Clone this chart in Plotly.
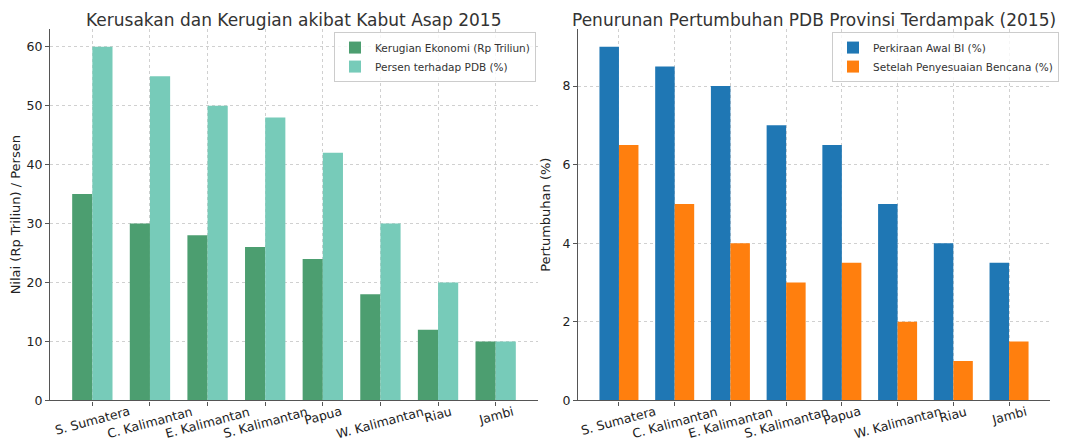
import plotly.graph_objects as go

# page body keeps its default 8px margin; the captured page comes out slightly
# squeezed vertically, so y positions are stretched a little.
W, H = 1060, 440
OX, OY = 8, 8
YS = 0.986

provinces = ["S. Sumatera", "C. Kalimantan", "E. Kalimantan", "S. Kalimantan",
             "Papua", "W. Kalimantan", "Riau", "Jambi"]
kerugian = [35, 30, 28, 26, 24, 18, 12, 10]
persen_pdb = [60, 55, 50, 48, 42, 30, 20, 10]
awal_bi = [9, 8.5, 8, 7, 6.5, 5, 4, 3.5]
setelah = [6.5, 5, 4, 3, 3.5, 2, 1, 1.5]

xs = list(range(len(provinces)))

def px(x):
    return (x - OX) / W

def py(y):
    return 1 - (y / YS - OY) / H

FONT = "DejaVu Sans"
GRID = "#d0d0d0"
AX = "#555555"

fig = go.Figure()
fig.add_trace(go.Bar(x=xs, y=kerugian, name="Kerugian Ekonomi (Rp Triliun)",
                     marker=dict(color="#4c9e70", line=dict(width=0)),
                     xaxis="x", yaxis="y", legend="legend"))
fig.add_trace(go.Bar(x=xs, y=persen_pdb, name="Persen terhadap PDB (%)",
                     marker=dict(color="#77cbb9", line=dict(width=0)),
                     xaxis="x", yaxis="y", legend="legend"))
fig.add_trace(go.Bar(x=xs, y=awal_bi, name="Perkiraan Awal BI (%)",
                     marker=dict(color="#1f77b4", line=dict(width=0)),
                     xaxis="x2", yaxis="y2", legend="legend2"))
fig.add_trace(go.Bar(x=xs, y=setelah, name="Setelah Penyesuaian Bencana (%)",
                     marker=dict(color="#ff7f0e", line=dict(width=0)),
                     xaxis="x2", yaxis="y2", legend="legend2"))

xr = [-0.735, 7.735]
common_x = dict(range=xr, showgrid=True, gridcolor=GRID, griddash="dot", gridwidth=1,
                tickmode="array", tickvals=xs, showticklabels=False,
                ticks="outside", ticklen=4, tickcolor=AX,
                showline=True, linecolor=AX, linewidth=1.3, zeroline=False)
common_y = dict(showgrid=True, gridcolor=GRID, griddash="dot", gridwidth=1,
                ticks="outside", ticklen=4, tickcolor=AX,
                showline=True, linecolor=AX, linewidth=1.3, zeroline=False,
                tickfont=dict(family=FONT, size=12.5, color="#222"))

fig.update_layout(
    width=W, height=H, margin=dict(l=0, r=0, t=0, b=0), autosize=False,
    paper_bgcolor="white", plot_bgcolor="white",
    barmode="group", bargap=0.3, bargroupgap=0,
    font=dict(family=FONT, color="#222"),
    xaxis=dict(domain=[px(50), px(538)], anchor="y", **common_x),
    yaxis=dict(domain=[py(401), py(29)], anchor="x", range=[0, 63],
               tickvals=[0, 10, 20, 30, 40, 50, 60],
               title=dict(text="Nilai (Rp Triliun) / Persen",
                          font=dict(family=FONT, size=13, color="#222"), standoff=8),
               **common_y),
    xaxis2=dict(domain=[px(578), px(1050)], anchor="y2", **common_x),
    yaxis2=dict(domain=[py(401), py(29)], anchor="x2", range=[0, 9.45],
                tickvals=[0, 2, 4, 6, 8],
                title=dict(text="Pertumbuhan (%)",
                           font=dict(family=FONT, size=13, color="#222"), standoff=8),
                **common_y),
    legend=dict(x=px(536), y=py(32), xanchor="right", yanchor="top",
                bgcolor="rgba(255,255,255,0.8)", bordercolor="#cccccc", borderwidth=1,
                font=dict(family=FONT, size=10.5, color="#333"),
                tracegroupgap=0, itemsizing="constant"),
    legend2=dict(x=px(1059), y=py(32), xanchor="right", yanchor="top",
                 bgcolor="rgba(255,255,255,0.8)", bordercolor="#cccccc", borderwidth=1,
                 font=dict(family=FONT, size=10.5, color="#333"),
                 tracegroupgap=0, itemsizing="constant"),
)

annotations = [
    dict(text="Kerusakan dan Kerugian akibat Kabut Asap 2015", x=px(294), y=1,
         xref="paper", yref="paper", xanchor="center", yanchor="top", showarrow=False,
         font=dict(family=FONT, size=17, color="#333")),
    dict(text="Penurunan Pertumbuhan PDB Provinsi Terdampak (2015)", x=px(814), y=1,
         xref="paper", yref="paper", xanchor="center", yanchor="top", showarrow=False,
         font=dict(family=FONT, size=17, color="#333")),
]
for xa in ["x", "x2"]:
    for i, name in enumerate(provinces):
        annotations.append(dict(text=name, x=xs[i], xref=xa, y=py(403), yref="paper",
                                xanchor="center", yanchor="top", textangle=-15,
                                showarrow=False, borderpad=0,
                                font=dict(family=FONT, size=12.5, color="#222")))
fig.update_layout(annotations=annotations)

fig.write_html("out.html", config={"displayModeBar": False})
